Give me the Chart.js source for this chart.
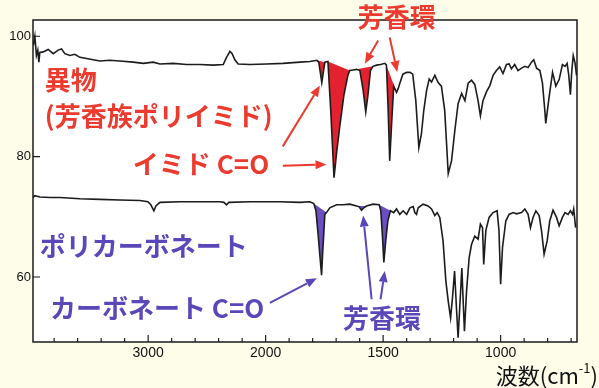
<!DOCTYPE html>
<html>
<head>
<meta charset="utf-8">
<script src="https://cdn.jsdelivr.net/npm/chart.js@4/dist/chart.umd.min.js"></script>
<style>
  html, body { margin: 0; padding: 0; background: #fdfdea; }
  #wrap { width: 599px; height: 388px; }
</style>
</head>
<body>
<div id="wrap"><canvas id="ir" width="599" height="388"></canvas></div>
<script>
// 異物 (芳香族ポリイミド) : wavenumber (cm-1) / transmittance (%)
const topWn = [3977,3964,3951,3939,3930,3922,3893,3851,3808,3766,3737,3709,3666,3624,3581,3524,3468,3411,3326,3241,
  3127,3042,2957,2900,2787,2673,2560,2447,2361,2333,2304,2285,2262,2234,2134,1996,1926,1854,1812,1782,
  1774,1761,1748,1735,1723,1709,1697,1684,1667,1650,1642,1628,1613,1599,1585,1574,1564,1554,1543,1528,
  1511,1493,1486,1479,1472,1464,1455,1443,1436,1429,1416,1400,1386,1374,1361,1348,1337,1327,1315,1304,
  1294,1280,1266,1252,1238,1223,1209,1195,1181,1166,1152,1138,1124,1110,1096,1086,1075,1060,1046,1032,
  1018,1004,990,975,964,954,940,926,911,897,883,869,859,847,833,822,812,808,794,779,
  765,751,737,726,717,710,703,697,691,683,677];
const topT = [98.5,100,96.8,97.7,95.7,97.3,97.4,97.8,97.1,97.7,97.9,97.1,96.8,97.0,96.5,96.3,96.1,95.9,96.0,95.9,
  95.7,95.5,95.7,95.4,95.5,95.3,95.3,95.2,95.3,96.5,97.5,97.1,96.1,95.4,95.3,95.4,95.5,95.7,95.8,96.0,
  95.7,92.3,95.7,95.8,87.7,76.5,81.0,85.2,90.2,93.5,94.3,94.4,94.5,94.3,91.0,87.4,90.4,94.3,95.0,95.2,
  95.3,95.5,95.2,88.2,79.3,85.4,91.7,90.7,91.3,92.2,93.7,94.0,94.0,93.7,89.3,81.5,83.8,87.7,91.0,92.9,
  92.4,93.5,92.3,91.7,87.7,77.2,79.3,84.3,88.8,90.5,89.3,92.2,92.7,92.0,89.3,86.8,89.3,90.8,91.8,93.5,
  94.3,94.9,93.8,95.3,95.4,94.6,95.3,94.3,94.7,95.0,94.8,95.7,96.1,94.7,94.3,92.2,87.7,85.5,89.8,94.0,
  91.7,92.8,95.3,95.0,95.5,93.5,90.3,94.3,96.8,95.5,93.5];

// ポリカーボネート
const botWn = [3990,3981,3964,3922,3836,3751,3581,3411,3241,3070,3002,2977,2951,2934,2900,2730,2560,2390,2355,2333,
  2313,2134,1940,1854,1812,1795,1786,1777,1769,1762,1757,1748,1741,1727,1698,1671,1642,1613,1603,1592,
  1582,1571,1543,1517,1510,1503,1497,1489,1480,1469,1455,1443,1429,1415,1400,1386,1372,1365,1358,1351,
  1330,1309,1294,1280,1270,1259,1245,1233,1223,1213,1205,1196,1188,1181,1174,1165,1160,1154,1145,1134,
  1124,1110,1096,1086,1077,1072,1063,1049,1032,1015,1007,1000,992,978,964,947,932,911,897,883,
  873,862,850,836,826,815,802,791,777,762,751,737,726,713,703,694,689,681];
const botT = [73.8,73.2,73.5,73.3,73.2,73.2,73.0,72.9,72.8,72.7,72.5,72.0,71.0,71.8,72.4,72.5,72.5,72.5,72.4,72.0,
  72.4,72.5,72.5,72.4,72.5,72.2,71.0,67.2,63.5,60.3,64.3,70.4,70.7,71.5,72.0,72.0,72.1,71.8,71.7,71.1,
  71.5,71.8,72.1,72.0,71.0,66.8,62.4,66.0,69.3,71.0,70.7,71.3,70.4,71.0,70.4,71.5,71.7,70.7,70.4,71.5,
  72.1,71.8,71.3,70.2,70.7,69.9,66.0,59.3,56.0,53.2,56.5,61.0,54.9,49.9,54.9,61.5,56.5,51.0,57.7,63.2,
  65.4,66.8,66.3,68.8,68.2,62.1,67.7,69.9,70.7,71.0,67.7,58.8,64.9,69.3,70.4,70.7,70.5,70.7,71.3,70.4,
  68.2,69.9,71.0,70.2,67.7,63.8,66.0,69.3,71.1,69.9,68.5,69.9,70.7,70.4,71.0,70.4,71.3,68.2];

// shaded bands [from, to] in cm-1
const topBands = [[1782, 1748], [1735, 1642], [1613, 1543], [1486, 1443]];
const botBands = [[1795, 1741], [1613, 1571], [1517, 1469]];

const xTickLabels = [3000, 2000, 1500, 1000];
const yTickLabels = [60, 80, 100];

const RED = '#ec3a2f', RED_FILL = '#e4222f';
const PURPLE = '#5a47b9', PURPLE_FILL = '#6a4fc3';

// notes: [text, cm-1, %T]   arrows: [from cm-1, from %T, to cm-1, to %T]
const redNotes = [['異物', 3879, 92.7], ['(芳香族ポリイミド)', 3879, 86.8], ['イミド C=O', 3130, 78.8], ['芳香環', 1608, 103.2]];
const purpleNotes = [['ポリカーボネート', 3922, 65.2], ['カーボネート C=O', 3836, 54.8], ['芳香環', 1671, 53.2]];
const redArrows = [[1927, 78.5, 1741, 78.7], [1927, 81.7, 1769, 91.8], [1521, 99.3, 1578, 95.45], [1472, 99.8, 1440, 94.05]];
const purpleArrows = [[1982, 55.7, 1782, 59.8], [1549, 56.3, 1585, 70.2], [1511, 56.3, 1493, 61.0]];

// chart paper scale doubles below 2000 cm-1
const pos = w => w >= 2000 ? (4000 - w) / 2 : 3000 - w;
const wn = u => u <= 1000 ? 4000 - 2 * u : 3000 - u;

const toPoints = (ws, ts) => ws.map((w, i) => ({ x: pos(w), y: ts[i] }));

function bandSet(ws, ts, band, color) {
  const data = [];
  ws.forEach((w, i) => {
    if (w <= band[0] && w >= band[1]) data.push({ x: pos(w), y: ts[i] });
  });
  return { data, fill: 'shape', backgroundColor: color, borderWidth: 0, pointRadius: 0, order: 1 };
}

const lineStyle = { borderColor: '#1c1c1c', borderWidth: 1.6, pointRadius: 0, fill: false, tension: 0, order: 0 };

const datasets = [
  { label: '異物', data: toPoints(topWn, topT), ...lineStyle },
  { label: 'ポリカーボネート', data: toPoints(botWn, botT), ...lineStyle },
  ...topBands.map(b => bandSet(topWn, topT, b, RED_FILL)),
  ...botBands.map(b => bandSet(botWn, botT, b, PURPLE_FILL))
];

function arrow(ctx, x0, y0, x1, y1, color) {
  const a = Math.atan2(y1 - y0, x1 - x0);
  const L = 11, W = 4.5;
  const bx = x1 - L * Math.cos(a), by = y1 - L * Math.sin(a);
  ctx.strokeStyle = color;
  ctx.fillStyle = color;
  ctx.lineWidth = 2;
  ctx.beginPath();
  ctx.moveTo(x0, y0);
  ctx.lineTo(bx, by);
  ctx.stroke();
  ctx.beginPath();
  ctx.moveTo(x1, y1);
  ctx.lineTo(bx + W * Math.sin(a), by - W * Math.cos(a));
  ctx.lineTo(bx - W * Math.sin(a), by + W * Math.cos(a));
  ctx.closePath();
  ctx.fill();
}

const paper = {
  id: 'paper',
  beforeDraw(chart) {
    const { ctx, chartArea: a } = chart;
    ctx.save();
    ctx.fillStyle = '#fdfdea';
    ctx.fillRect(0, 0, chart.width, chart.height);
    ctx.fillStyle = '#ffffff';
    ctx.fillRect(a.left, a.top, a.right - a.left, a.bottom - a.top);
    ctx.restore();
  },
  afterDraw(chart) {
    const { ctx, chartArea: a, scales: { x, y } } = chart;
    ctx.save();

    // frame + inward ticks
    ctx.strokeStyle = '#1b1b1b';
    ctx.lineWidth = 1.5;
    ctx.strokeRect(a.left, a.top, a.right - a.left, a.bottom - a.top);
    ctx.lineWidth = 1.2;
    ctx.beginPath();
    x.ticks.forEach(t => {
      const px = x.getPixelForValue(t.value);
      const len = xTickLabels.includes(wn(t.value)) ? 7 : 4;
      ctx.moveTo(px, a.bottom);
      ctx.lineTo(px, a.bottom - len);
    });
    y.ticks.forEach(t => {
      const py = y.getPixelForValue(t.value);
      ctx.moveTo(a.left, py);
      ctx.lineTo(a.left + 7, py);
    });
    ctx.stroke();

    // arrows
    redArrows.forEach(r => arrow(ctx, x.getPixelForValue(pos(r[0])), y.getPixelForValue(r[1]),
      x.getPixelForValue(pos(r[2])), y.getPixelForValue(r[3]), RED));
    purpleArrows.forEach(r => arrow(ctx, x.getPixelForValue(pos(r[0])), y.getPixelForValue(r[1]),
      x.getPixelForValue(pos(r[2])), y.getPixelForValue(r[3]), PURPLE));

    // notes
    ctx.font = 'bold 26px "Noto Sans CJK JP", sans-serif';
    ctx.textAlign = 'left';
    ctx.textBaseline = 'middle';
    ctx.fillStyle = RED;
    redNotes.forEach(n => ctx.fillText(n[0], x.getPixelForValue(pos(n[1])), y.getPixelForValue(n[2])));
    ctx.fillStyle = PURPLE;
    purpleNotes.forEach(n => ctx.fillText(n[0], x.getPixelForValue(pos(n[1])), y.getPixelForValue(n[2])));

    // axis title 波数(cm-1)
    ctx.fillStyle = '#111';
    const big = '22px "Noto Sans CJK JP", sans-serif';
    const small = '13px "Noto Sans CJK JP", sans-serif';
    ctx.font = big;
    const w1 = ctx.measureText('波数(cm').width;
    const w3 = ctx.measureText(')').width;
    ctx.font = small;
    const w2 = ctx.measureText('-1').width;
    const tx = chart.width - 1 - (w1 + w2 + w3);
    const ty = 376;
    ctx.font = big;
    ctx.fillText('波数(cm', tx, ty);
    ctx.font = small;
    ctx.fillText('-1', tx + w1, ty - 8);
    ctx.font = big;
    ctx.fillText(')', tx + w1 + w2, ty);

    ctx.restore();
  }
};

new Chart(document.getElementById('ir'), {
  type: 'line',
  data: { datasets },
  options: {
    responsive: false,
    animation: false,
    events: [],
    layout: { padding: { left: 0, right: 22, top: 20, bottom: 0 } },
    plugins: { legend: { display: false }, tooltip: { enabled: false } },
    scales: {
      x: {
        type: 'linear',
        min: pos(3980),
        max: pos(675),
        grid: { display: false, drawTicks: false },
        border: { display: false },
        ticks: {
          stepSize: 100,
          includeBounds: false,
          autoSkip: false,
          maxRotation: 0,
          padding: 3,
          color: '#111',
          font: { family: '"Liberation Sans", Arial, sans-serif', size: 14 },
          callback: v => xTickLabels.includes(wn(v)) ? String(wn(v)) : ''
        },
        afterFit: s => { s.height = 46; }
      },
      y: {
        min: 49.2,
        max: 102.7,
        grid: { display: false, drawTicks: false },
        border: { display: false },
        ticks: {
          stepSize: 20,
          includeBounds: false,
          padding: 2,
          color: '#111',
          font: { family: '"Liberation Sans", Arial, sans-serif', size: 13 },
          callback: v => yTickLabels.includes(v) ? String(v) : ''
        },
        afterFit: s => { s.width = 33; }
      }
    }
  },
  plugins: [paper]
});
</script>
</body>
</html>
